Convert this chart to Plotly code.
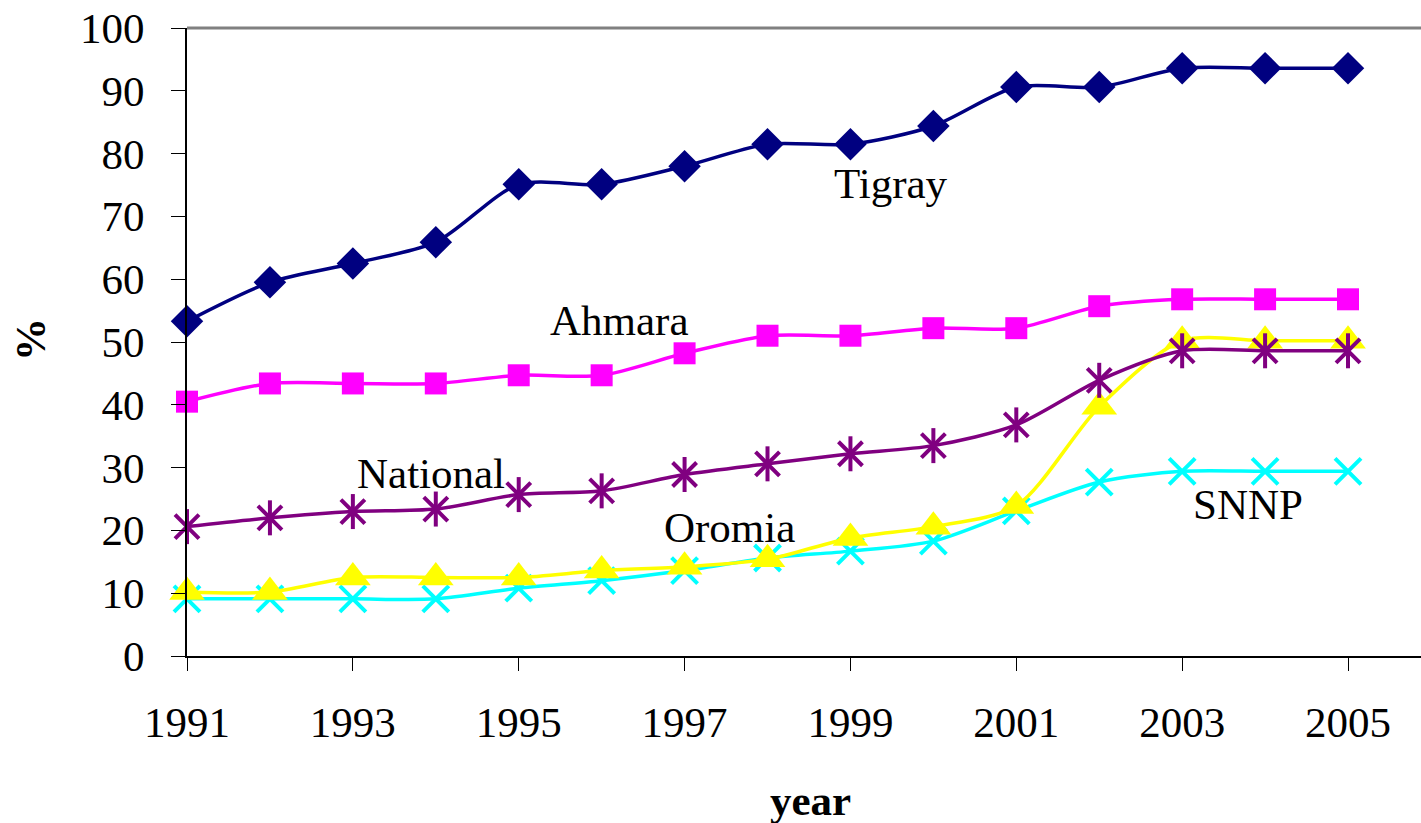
import plotly.graph_objects as go

years = list(range(1991, 2006))
tigray = [53.3, 59.5, 62.5, 65.9, 75.1, 75.1, 78.0, 81.5, 81.5, 84.4, 90.6, 90.6, 93.6, 93.6, 93.6]
ahmara = [40.5, 43.4, 43.4, 43.4, 44.7, 44.7, 48.2, 51.0, 51.0, 52.2, 52.2, 55.7, 56.8, 56.8, 56.8]
national = [20.6, 22.0, 23.0, 23.4, 25.7, 26.3, 28.9, 30.6, 32.2, 33.5, 36.8, 43.9, 48.6, 48.6, 48.6]
oromia = [10.2, 10.2, 12.5, 12.5, 12.5, 13.6, 14.2, 15.4, 18.8, 20.6, 23.9, 39.7, 50.2, 50.2, 50.2]
snnp = [9.1, 9.1, 9.1, 9.1, 10.8, 12.0, 13.6, 15.6, 16.7, 18.3, 23.1, 27.7, 29.4, 29.4, 29.4]

label_names = ["Tigray", "Ahmara", "National", "Oromia", "SNNP"]
label_x = [1999.49, 1996.22, 1993.94, 1997.54, 2003.79]
label_y = [75.3, 53.4, 29.0, 20.4, 24.2]

x_ticks = [1991, 1993, 1995, 1997, 1999, 2001, 2003, 2005]
y_ticks = [0, 10, 20, 30, 40, 50, 60, 70, 80, 90, 100]

FONT = "Liberation Serif, Times New Roman, serif"
FS = 43

fig = go.Figure()

def add_series(y, color, symbol, size, mline=0):
    fig.add_trace(go.Scatter(
        x=years, y=y, mode="lines+markers", cliponaxis=False,
        line=dict(color=color, width=3.5, shape="spline", smoothing=0.8),
        marker=dict(symbol=symbol, size=size, color=color,
                    line=dict(color=color, width=mline)),
        showlegend=False, hoverinfo="skip"))

add_series(snnp, "#00FFFF", "x-thin", 26, 4)
add_series(oromia, "#FFFF00", "triangle-up", 31)
add_series(national, "#800080", "x-thin", 24, 4)
fig.add_trace(go.Scatter(x=years, y=national, mode="markers", cliponaxis=False,
                         marker=dict(symbol="line-ns", size=25, color="#800080",
                                     line=dict(color="#800080", width=4)),
                         showlegend=False, hoverinfo="skip"))
add_series(ahmara, "#FF00FF", "square", 22)
add_series(tigray, "#000080", "diamond", 25)

for name, lx, ly in zip(label_names, label_x, label_y):
    fig.add_annotation(x=lx, y=ly, text=name, showarrow=False,
                       xanchor="center", yanchor="middle",
                       font=dict(family=FONT, size=FS, color="black"))

fig.add_annotation(xref="paper", yref="paper", x=(810 - 187) / 1234, y=-(800 - 656) / 628,
                   text="<b>year</b>", showarrow=False, xanchor="center", yanchor="middle",
                   font=dict(family=FONT, size=FS, color="black"))
fig.add_annotation(xref="paper", yref="paper", x=-(187 - 30) / 1234, y=(656 - 340) / 628,
                   text="<b>%</b>", textangle=-90, showarrow=False,
                   xanchor="center", yanchor="middle",
                   font=dict(family=FONT, size=FS, color="black"))

fig.add_shape(type="line", xref="paper", yref="paper", x0=0, x1=1, y0=1, y1=1,
              line=dict(color="#808080", width=3))

fig.update_layout(
    width=1421, height=823,
    margin=dict(l=187, r=0, t=28, b=167),
    plot_bgcolor="white", paper_bgcolor="white",
    font=dict(family=FONT, size=FS, color="black"),
)
fig.update_xaxes(range=[1991, 2005.88], tickvals=x_ticks, ticktext=[str(v) for v in x_ticks],
                 ticks="outside", ticklen=13, tickcolor="black", tickwidth=1,
                 showline=True, linecolor="black", linewidth=2,
                 showgrid=False, zeroline=False, ticklabelstandoff=14,
                 tickfont=dict(family=FONT, size=FS, color="black"))
fig.update_yaxes(range=[0, 100], tickvals=y_ticks,
                 ticks="outside", ticklen=14, tickcolor="black", tickwidth=1,
                 showline=True, linecolor="black", linewidth=2,
                 showgrid=False, zeroline=False, ticklabelstandoff=18,
                 tickfont=dict(family=FONT, size=FS, color="black"))

fig.write_html("out.html", config={"displayModeBar": False},
               post_script="document.body.style.margin='0';document.body.style.overflow='hidden';")
